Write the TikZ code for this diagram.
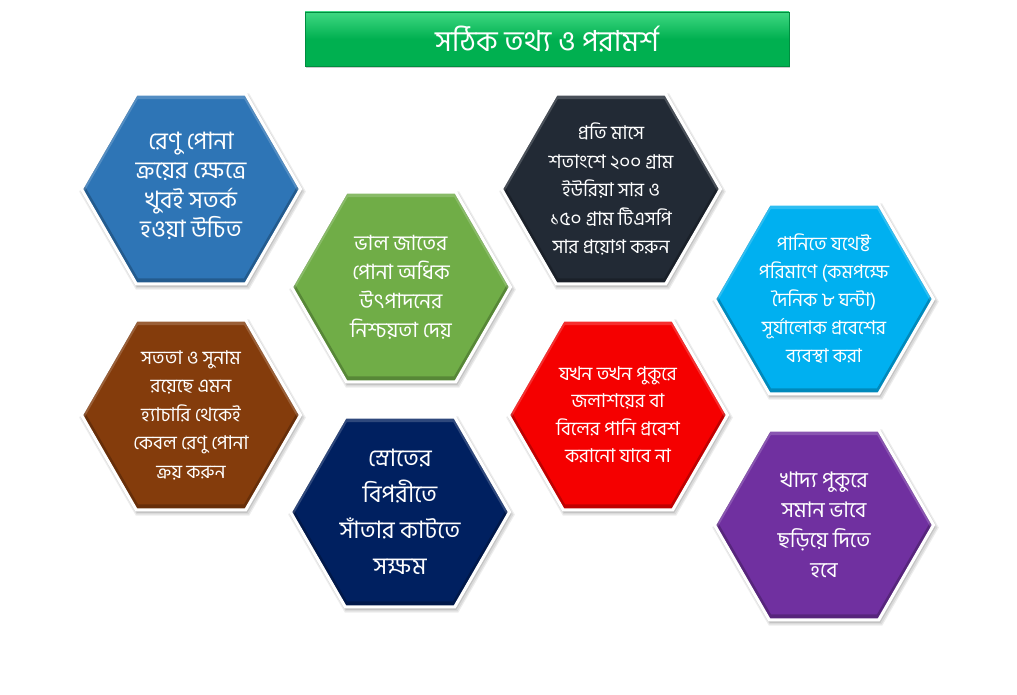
\documentclass[tikz,border=0pt]{standalone}
\usepackage{fontspec}
\newfontfamily\bn[Script=Bengali]{Hind Siliguri}
\usetikzlibrary{shapes.geometric,shadows}
\definecolor{hblue}{HTML}{2E75B6}
\definecolor{hgreen}{HTML}{70AD47}
\definecolor{hdark}{HTML}{222A35}
\definecolor{hcyan}{HTML}{00B0F0}
\definecolor{hbrown}{HTML}{843C0C}
\definecolor{hnavy}{HTML}{002060}
\definecolor{hred}{HTML}{F50000}
\definecolor{hpurple}{HTML}{7030A0}
\definecolor{tgreen}{HTML}{00B050}
\definecolor{tlight}{HTML}{3FD882}
\begin{document}
\begin{tikzpicture}[x=1pt,y=-1pt,
  hexbase/.style={regular polygon, regular polygon sides=6, minimum size=219pt, inner sep=0pt},
  hex/.style={hexbase, draw=white, line width=3pt, fill=#1,
    drop shadow={shadow xshift=1.5pt, shadow yshift=-2.5pt, opacity=0.07, shadow scale=1.035, fill=black},
    drop shadow={shadow xshift=1.5pt, shadow yshift=-2.5pt, opacity=0.08, shadow scale=1.022, fill=black},
    drop shadow={shadow xshift=1pt, shadow yshift=-2pt, opacity=0.10, shadow scale=1.01, fill=black},
    path picture={
      \node[hexbase, draw=black, draw opacity=0.22, line width=6pt]
        at ([yshift=2.5pt]path picture bounding box.center) {};
      \node[hexbase, draw=white, draw opacity=0.18, line width=5pt]
        at ([yshift=-2.5pt]path picture bounding box.center) {};
    }},
  htext/.style 2 args={text=white, align=center, inner sep=0pt,
    font=\bn\fontsize{#1}{#2}\selectfont},
  titlebar/.style={rectangle, minimum width=484pt, minimum height=54pt,
    top color=tlight, bottom color=tgreen, middle color=tgreen,
    draw=tgreen!80!black, line width=0.4pt, text=white,
    font=\bn\fontsize{29}{34}\selectfont,
    drop shadow={shadow xshift=0.5pt, shadow yshift=-2.5pt, opacity=0.2, fill=black}}
]
\useasboundingbox (0,0) rectangle (1017,695);
\fill[white] (0,0) rectangle (1017,695);

\node[titlebar] (title) at (547,39) {সঠিক তথ্য ও পরামর্শ};

\node[hex=hblue]   (h1) at (191,189) {};
\node[hex=hgreen]  (h2) at (401,287) {};
\node[hex=hdark]   (h3) at (611,189) {};
\node[hex=hcyan]   (h4) at (824,299) {};
\node[hex=hbrown]  (h5) at (191,415) {};
\node[hex=hnavy]   (h6) at (400,512) {};
\node[hex=hred]    (h7) at (618,415) {};
\node[hex=hpurple] (h8) at (824,525) {};

\node[htext={24}{29.5}] (t1) at ([yshift=3pt]h1) {রেণু পোনা\\ক্রয়ের ক্ষেত্রে\\খুবই সতর্ক\\হওয়া উচিত};
\node[htext={21}{29}] (t2) at (h2) {ভাল জাতের\\পোনা অধিক\\উৎপাদনের\\নিশ্চয়তা দেয়};
\node[htext={19}{28.5}] (t3) at (h3) {প্রতি মাসে\\শতাংশে ২০০ গ্রাম\\ইউরিয়া সার ও\\১৫০ গ্রাম টিএসপি\\সার প্রয়োগ করুন};
\node[htext={19}{28}] (t4) at (h4) {পানিতে যথেষ্ট\\পরিমাণে (কমপক্ষে\\দৈনিক ৮ ঘন্টা)\\সূর্যালোক প্রবেশের\\ব্যবস্থা করা};
\node[htext={19}{28.5}] (t5) at (h5) {সততা ও সুনাম\\রয়েছে এমন\\হ্যাচারি থেকেই\\কেবল রেণু পোনা\\ক্রয় করুন};
\node[htext={24}{36}] (t6) at (h6) {স্রোতের\\বিপরীতে\\সাঁতার কাটতে\\সক্ষম};
\node[htext={19}{27.5}] (t7) at (h7) {যখন তখন পুকুরে\\জলাশয়ের বা\\বিলের পানি প্রবেশ\\করানো যাবে না};
\node[htext={21.5}{30}] (t8) at (h8) {খাদ্য পুকুরে\\সমান ভাবে\\ছড়িয়ে দিতে\\হবে};
\end{tikzpicture}
\end{document}
